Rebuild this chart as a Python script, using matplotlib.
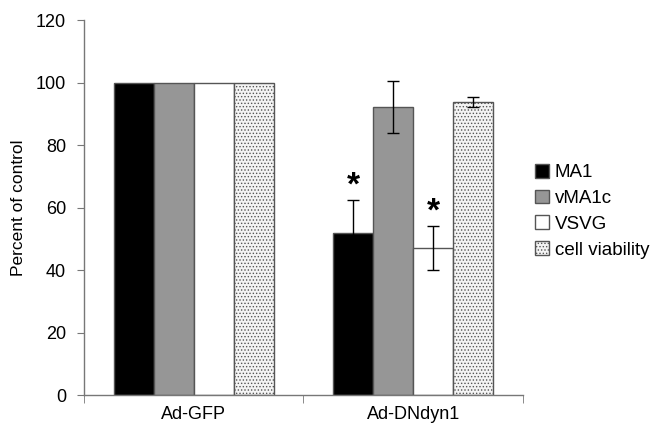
import matplotlib
matplotlib.use("Agg")
import matplotlib.pyplot as plt
import numpy as np

plt.rcParams['font.family'] = ['Liberation Sans', 'DejaVu Sans']
plt.rcParams['hatch.color'] = '#9a9a9a'
plt.rcParams['hatch.linewidth'] = 0.6

groups = ["Ad-GFP", "Ad-DNdyn1"]
series = ["MA1", "vMA1c", "VSVG", "cell viability"]
values = {
    "MA1": [100, 51.7],
    "vMA1c": [100, 92.2],
    "VSVG": [100, 47.1],
    "cell viability": [100, 93.8],
}
errors = {
    "MA1": [0, 10.6],
    "vMA1c": [0, 8.4],
    "VSVG": [0, 7.0],
    "cell viability": [0, 1.6],
}
significant = {"MA1": [False, True], "VSVG": [False, True]}

styles = {
    "MA1": dict(color='black', edgecolor='#555555', hatch=None),
    "vMA1c": dict(color='#969696', edgecolor='#555555', hatch=None),
    "VSVG": dict(color='white', edgecolor='#555555', hatch=None),
    "cell viability": dict(color='#f4f4f4', edgecolor='#555555', hatch='.....'),
}

fig = plt.figure(figsize=(6.54, 4.32), dpi=100)
ax = fig.add_axes([0.1284, 0.0856, 0.6713, 0.8681])

x = np.arange(len(groups))
width = 0.182
for i, name in enumerate(series):
    st = styles[name]
    pos = x + (i - 1.5) * width
    ax.bar(pos, values[name], width, color=st['color'], edgecolor=st['edgecolor'],
           hatch=st['hatch'], linewidth=1.0, label=name, zorder=2)
    err = np.array(errors[name])
    mask = err > 0
    ax.errorbar(pos[mask], np.array(values[name])[mask], yerr=err[mask], fmt='none',
                ecolor='black', elinewidth=1.0, capsize=4, capthick=1.0, zorder=3)
    for j, sig in enumerate(significant.get(name, [])):
        if sig:
            top = values[name][j] + errors[name][j]
            ax.text(pos[j], top + 4.5, "*", ha='center', va='center',
                    fontsize=24, fontweight='bold', zorder=4)

ax.set_xlim(-0.5, 1.5)
ax.set_ylim(0, 120)
ax.set_yticks(range(0, 121, 20))
ax.set_xticks(x)
ax.set_xticklabels(groups)
ax.set_xticks([-0.5, 0.5, 1.5], minor=True)
ax.tick_params(axis='x', which='major', length=0, pad=8, labelsize=13)
ax.tick_params(axis='x', which='minor', length=6, direction='out', color='#777777')
ax.tick_params(axis='y', length=5, direction='out', color='#777777', labelsize=13, pad=8)
ax.set_ylabel("Percent of control", fontsize=12.5, labelpad=7)

for s in ['top', 'right']:
    ax.spines[s].set_visible(False)
for s in ['left', 'bottom']:
    ax.spines[s].set_color('#777777')
    ax.spines[s].set_linewidth(1.0)

ax.legend(loc='center left', bbox_to_anchor=(1.01, 0.49), frameon=False,
          fontsize=13.5, handlelength=0.75, handleheight=0.75, handletextpad=0.3,
          labelspacing=0.45, borderaxespad=0)

fig.savefig("out.png", dpi=100, facecolor='white')
